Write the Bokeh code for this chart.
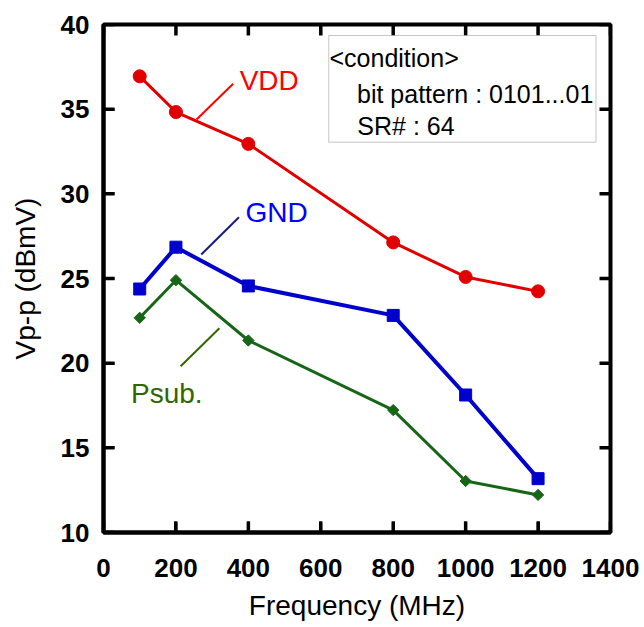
import math
from bokeh.plotting import figure
from bokeh.models import FixedTicker, Label, BoxAnnotation
from bokeh.embed import file_html
from bokeh.resources import INLINE

# ---- data ----
freq = [100, 200, 400, 800, 1000, 1200]
vdd = [36.94, 34.83, 32.95, 27.13, 25.09, 24.24]
gnd = [24.38, 26.85, 24.56, 22.82, 18.12, 13.18]
psub = [22.68, 24.90, 21.34, 17.23, 13.04, 12.22]
x_ticks = [0, 200, 400, 600, 800, 1000, 1200, 1400]
y_ticks = [10, 15, 20, 25, 30, 35, 40]
series_names = ["VDD", "GND", "Psub."]
cond_lines = ["<condition>", "bit pattern : 0101...01", "SR# : 64"]

FONT = "Liberation Sans"
W, H = 640, 626
X0, X1, Y0, Y1 = 0, 1400, 10, 40
FL, FT, FR, FB = 103, 24, 610, 532          # frame edges in page pixels
TICK = 11
p = figure(width=W, height=H, x_range=(X0, X1), y_range=(Y0, Y1),
           output_backend="svg", toolbar_location=None,
           min_border_left=FL, min_border_top=FT,
           min_border_right=W - FR, min_border_bottom=H - FB)
p.grid.visible = False
p.background_fill_color = None
p.border_fill_color = "white"
p.outline_line_color = "black"
p.outline_line_width = 4

for ax, ticks in ((p.xaxis[0], x_ticks), (p.yaxis[0], y_ticks)):
    ax.ticker = FixedTicker(ticks=ticks)
    ax.axis_line_width = 4
    ax.axis_line_color = "black"
    ax.major_tick_in = TICK
    ax.major_tick_out = 0
    ax.major_tick_line_width = 3
    ax.major_tick_line_color = "black"
    ax.minor_tick_line_color = None
    ax.major_label_text_font = FONT
    ax.major_label_text_font_style = "bold"
    ax.major_label_text_font_size = "26px"
    ax.major_label_text_color = "black"
    ax.axis_label_text_font = FONT
    ax.axis_label_text_font_style = "normal"
    ax.axis_label_text_font_size = "28px"
    ax.axis_label_text_color = "black"

xa = p.xaxis[0]
ya = p.yaxis[0]
xa.axis_label = "Frequency (MHz)"
ya.axis_label = "Vp-p (dBmV)"
xa.major_label_standoff = 26
xa.axis_label_standoff = 10
ya.major_label_standoff = 14
ya.axis_label_standoff = 17

# inner ticks drawn as glyphs on all four edges
dx = TICK * (X1 - X0) / (FR - FL)
dy = TICK * (Y1 - Y0) / (FB - FT)
n_x, n_y = len(x_ticks), len(y_ticks)
p.segment(x0=x_ticks * 2, y0=[Y1] * n_x + [Y0] * n_x,
          x1=x_ticks * 2, y1=[Y1 - dy] * n_x + [Y0 + dy] * n_x,
          line_color="black", line_width=3.5)
p.segment(x0=[X1] * n_y + [X0] * n_y, y0=y_ticks * 2,
          x1=[X1 - dx] * n_y + [X0 + dx] * n_y, y1=y_ticks * 2,
          line_color="black", line_width=3.5)

# ---- series ----
c_vdd, c_gnd, c_psub = "#e00000", "#0000cc", "#176617"
p.line(freq, vdd, line_color=c_vdd, line_width=3)
p.scatter(freq, vdd, marker="circle", size=13, fill_color=c_vdd, line_color=c_vdd)
p.line(freq, gnd, line_color=c_gnd, line_width=4)
p.scatter(freq, gnd, marker="square", size=12, fill_color=c_gnd, line_color=c_gnd)
p.line(freq, psub, line_color=c_psub, line_width=3)
p.scatter(freq, psub, marker="square", size=8, angle=math.pi / 4,
          fill_color=c_psub, line_color=c_psub)

# ---- annotations (labels with leader lines) ----
lift = 0.59
lbl_specs = [
    (series_names[0], 376, 36.10, "#ff0000", (358, 36.50, 257, 34.39), "#ff0000"),
    (series_names[1], 392, 28.29, "#0000ff", (374, 28.62, 270, 26.42), "#1a1a80"),
    (series_names[2], 76, 17.60, "#336600", (320, 22.06, 213, 19.82), "#336600"),
]
for txt, lx, ly, tc, (x0, y0, x1, y1), lc in lbl_specs:
    p.add_layout(Label(x=lx, y=ly + lift, text=txt, text_font=FONT, text_font_size="28px",
                       text_color=tc, text_align="left", text_baseline="alphabetic"))
    p.segment(x0=[x0], y0=[y0], x1=[x1], y1=[y1], line_color=lc, line_width=2)

# ---- condition box ----
p.add_layout(BoxAnnotation(left=622, right=1360, top=39.35, bottom=33.05,
                           fill_color="white", fill_alpha=1.0,
                           line_color="#404040", line_width=1))
for txt, lx, ly in zip(cond_lines, [624, 700, 701], [37.44, 35.28, 33.39]):
    p.add_layout(Label(x=lx, y=ly + lift, text=txt, text_font=FONT, text_font_size="25px",
                       text_color="black", text_align="left", text_baseline="alphabetic"))

open("out.html", "w").write(file_html(p, INLINE))
